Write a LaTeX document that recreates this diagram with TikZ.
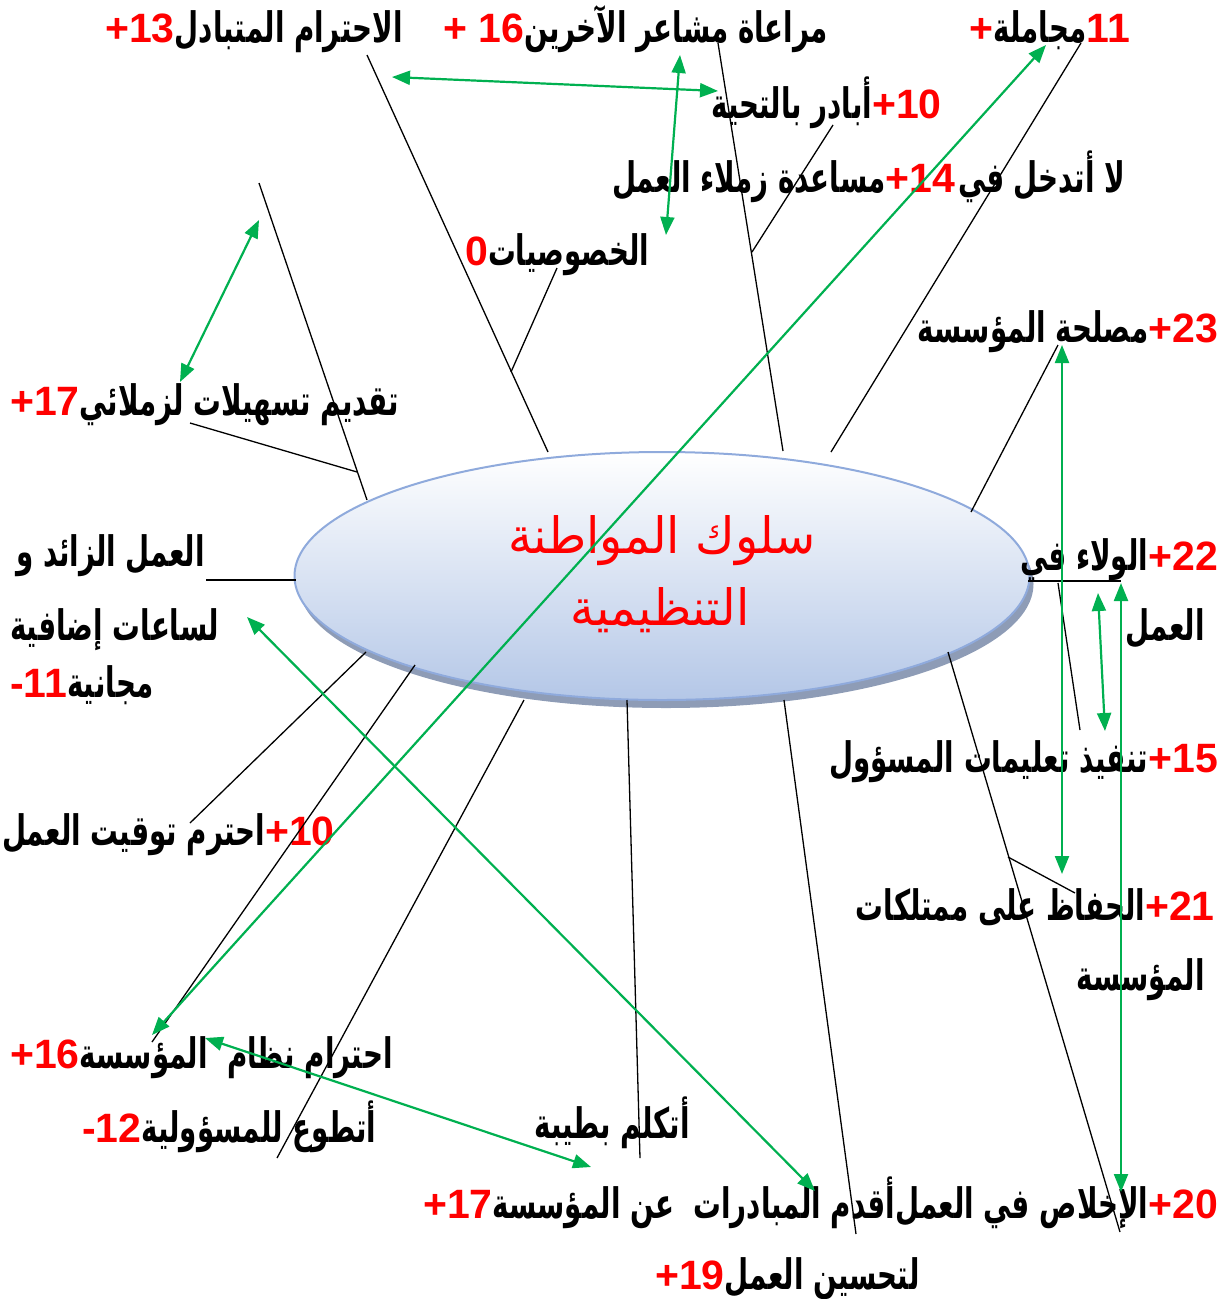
\documentclass[tikz,border=0pt]{standalone}
\usepackage{fontspec}
\usetikzlibrary{arrows.meta,shapes.geometric}
\TeXXeTstate=1
\setmainfont{Liberation Sans}
\newfontfamily\arf[Script=Arabic,FakeStretch=0.66]{DejaVu Sans}
\newfontfamily\arbig[Script=Arabic,FakeStretch=0.96]{DejaVu Sans}
\definecolor{numred}{HTML}{FF0000}
\definecolor{arrgreen}{HTML}{00B050}
\definecolor{ellborder}{HTML}{8FAADC}
\definecolor{ellbottom}{HTML}{B4C7E7}
\definecolor{ellshadow}{HTML}{8E9CB6}
\newcommand\AR[1]{{\arf\bfseries\fontsize{42}{44}\selectfont\beginR #1\endR}}
\newcommand\NUM[1]{{\bfseries\fontsize{41}{44}\selectfont\color{numred}#1}}
\tikzset{
  lbl/.style={anchor=base west, inner sep=0pt},
  lblr/.style={lbl, anchor=base east},
  spoke/.style={draw=black, line width=1.3pt},
  garrow/.style={draw=arrgreen, line width=2.2pt, {Triangle[length=18pt,width=14pt]}-{Triangle[length=18pt,width=14pt]}},
  bigtxt/.style={anchor=base, inner sep=0pt, text=numred, font=\arbig\fontsize{50}{52}\selectfont}
}
\begin{document}
\begin{tikzpicture}[x=1pt,y=-1pt]
\useasboundingbox (0,0) rectangle (1229,1299);
% ellipse
\node[ellipse, minimum width=735pt, minimum height=248pt, fill=ellshadow, inner sep=0pt] (ellsh) at (666,584) {};
\node[ellipse, minimum width=735pt, minimum height=248pt, top color=white, bottom color=ellbottom, draw=ellborder, line width=2pt, inner sep=0pt] (ell) at (662,576) {};
\node[bigtxt] (et1) at (662,553) {\beginR سلوك المواطنة\endR};
\node[bigtxt] (et2) at (660,625) {\beginR التنظيمية\endR};
% labels
\node[lbl] (t13) at (105,42) {\NUM{+13}\AR{الاحترام المتبادل}};
\node[lbl] (t16a) at (443,42) {\NUM{+ 16}\AR{مراعاة مشاعر الآخرين}};
\node[lblr] (t11) at (1130,42) {\NUM{+}\AR{مجاملة}\NUM{11}};
\node[lblr] (t10a) at (942,118) {\AR{أبادر بالتحية}\NUM{+10}};
\node[lblr] (t14) at (1125,192) {\AR{مساعدة زملاء العمل}\NUM{+14}\ \AR{لا أتدخل في}};
\node[lbl] (t0) at (465,265) {\NUM{0}\AR{الخصوصيات}};
\node[lblr] (t23) at (1218,342) {\AR{مصلحة المؤسسة}\NUM{+23}};
\node[lbl] (t17a) at (10,415) {\NUM{+17}\AR{تقديم تسهيلات لزملائي}};
\node[lblr] (tz1) at (205,566) {\AR{العمل الزائد و}};
\node[lbl] (tz2) at (10,640) {\AR{لساعات إضافية}};
\node[lbl] (tz3) at (10,697) {\NUM{-11}\AR{مجانية}};
\node[lblr] (t22) at (1218,570) {\AR{الولاء في}\NUM{+22}};
\node[lblr] (t22b) at (1205,640) {\AR{العمل}};
\node[lblr] (t15) at (1218,772) {\AR{تنفيذ تعليمات المسؤول}\NUM{+15}};
\node[lblr] (t10b) at (335,845) {\AR{احترم توقيت العمل}\NUM{+10}};
\node[lblr] (t21) at (1215,920) {\AR{الحفاظ على ممتلكات}\NUM{+21}};
\node[lblr] (t21b) at (1205,990) {\AR{المؤسسة}};
\node[lbl] (t16b) at (10,1068) {\NUM{+16}\AR{احترام نظام\ \ المؤسسة}};
\node[lbl] (t12) at (82,1142) {\NUM{-12}\AR{أتطوع للمسؤولية}};
\node[lblr] (tk) at (690,1138) {\AR{أتكلم بطيبة}};
\node[lblr] (t20) at (1218,1218) {\AR{الإخلاص في العمل}\NUM{+20}};
\node[lblr] (t17b) at (t20.base west) {\NUM{+17}\AR{أقدم المبادرات\ \ عن المؤسسة}};
\node[lbl] (t19) at (655,1289) {\NUM{+19}\AR{لتحسين العمل}};
% endpoints
\coordinate (a1) at (367,55);   \coordinate (a2) at (548,452);
\coordinate (b1) at (557,268);  \coordinate (b2) at (511,372);
\coordinate (c1) at (259,183);  \coordinate (c2) at (367,500);
\coordinate (d1) at (190,423);  \coordinate (d2) at (357,472);
\coordinate (e1) at (718,43);   \coordinate (e2) at (783,451);
\coordinate (f1) at (833,125);  \coordinate (f2) at (752,252);
\coordinate (g1) at (1081,43);  \coordinate (g2) at (831,452);
\coordinate (h1) at (1058,345); \coordinate (h2) at (971,512);
\coordinate (i1) at (1028,581); \coordinate (i2) at (1121,581);
\coordinate (j1) at (1058,583); \coordinate (j2) at (1080,730);
\coordinate (k1) at (948,652);  \coordinate (k2) at (1120,1232);
\coordinate (l1) at (1008,857); \coordinate (l2) at (1075,893);
\coordinate (m1) at (784,700);  \coordinate (m2) at (856,1234);
\coordinate (n1) at (627,700);  \coordinate (n2) at (640,1158);
\coordinate (o1) at (524,700);  \coordinate (o2) at (277,1158);
\coordinate (p1) at (415,665);  \coordinate (p2) at (152,1042);
\coordinate (q1) at (366,652);  \coordinate (q2) at (190,823);
\coordinate (r1) at (206,580);  \coordinate (r2) at (296,580);
% black spokes
\foreach \s in {a,b,c,d,e,f,g,h,i,j,k,l,m,n,o,p,q,r}{\draw[spoke] (\s1) -- (\s2);}
% green arrows
\coordinate (ga1) at (392,77);   \coordinate (ga2) at (718,91);
\coordinate (gb1) at (680,55);   \coordinate (gb2) at (666,235);
\coordinate (gc1) at (259,220);  \coordinate (gc2) at (180,382);
\coordinate (gd1) at (1046,45);  \coordinate (gd2) at (152,1035);
\coordinate (ge1) at (247,617);  \coordinate (ge2) at (815,1191);
\coordinate (gf1) at (205,1038); \coordinate (gf2) at (591,1167);
\coordinate (gg1) at (1062,345); \coordinate (gg2) at (1062,874);
\coordinate (gh1) at (1098,593); \coordinate (gh2) at (1105,731);
\coordinate (gi1) at (1121,583); \coordinate (gi2) at (1121,1192);
\foreach \s in {a,b,c,d,e,f,g,h,i}{\draw[garrow] (g\s1) -- (g\s2);}
\end{tikzpicture}
\end{document}
